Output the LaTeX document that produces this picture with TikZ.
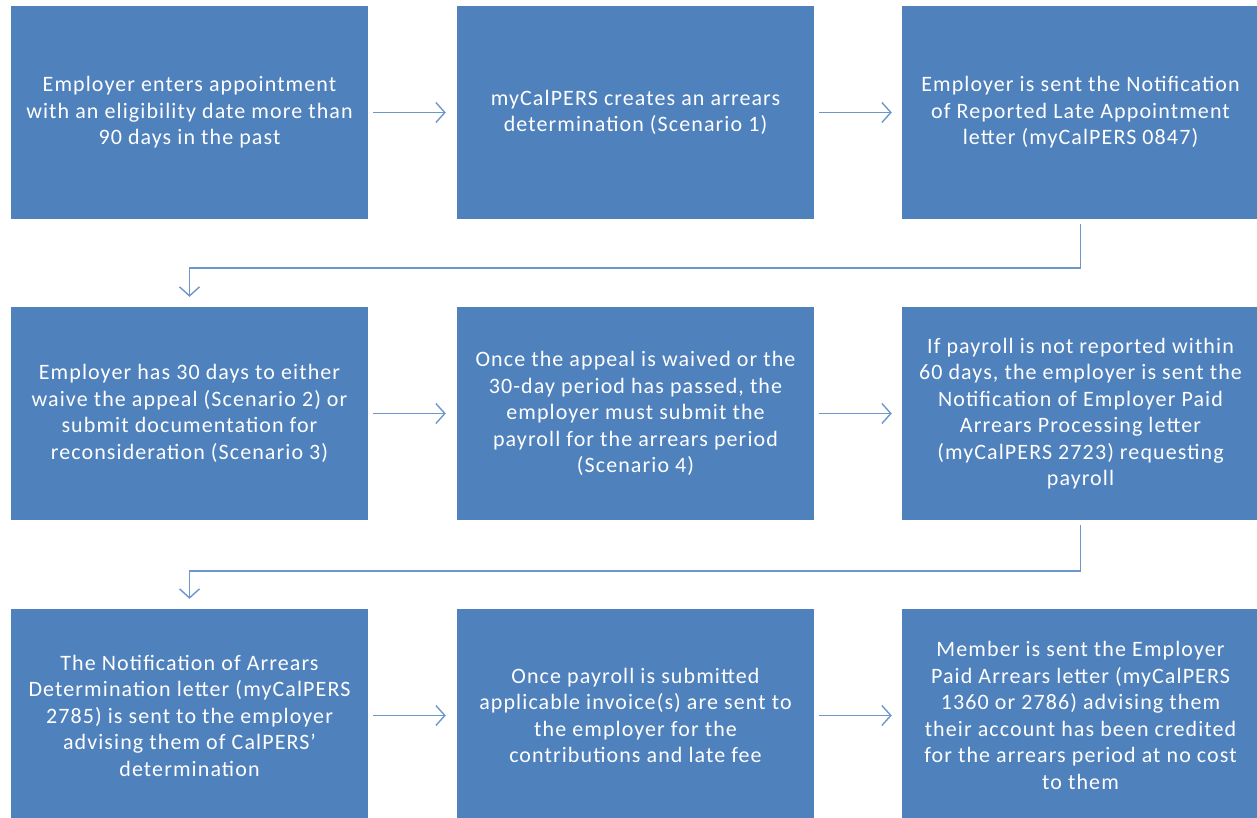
\documentclass[tikz,border=0pt]{standalone}
\usepackage{fontspec}
\setmainfont{Carlito}[LetterSpace=5]
\usepackage{tikz}
\usetikzlibrary{arrows.meta}

\definecolor{boxblue}{HTML}{4F81BD}
\definecolor{lineblue}{HTML}{6D97CC}

\begin{document}
\begin{tikzpicture}[x=1pt, y=-1pt,
  stepbox/.style={fill=boxblue, draw=none, minimum width=357pt, minimum height=213pt,
    inner sep=0pt, text=white, align=center,
    font=\fontsize{22}{26.5}\selectfont},
  flowarrow/.style={draw=lineblue, line width=1.4pt,
    -{Straight Barb[length=9pt, width=20pt, line width=1.4pt]}}]

\useasboundingbox (0,0) rectangle (1257,818);
\clip (0,0) rectangle (1257,818);

% first row
\node[stepbox] (enter) at (189.5,112.5) {Employer enters appointment\\with an eligibility date more than\\90 days in the past};
\node[stepbox] (arrears) at (635.5,112.5) {myCalPERS creates an arrears\\determination (Scenario 1)};
\node[stepbox] (late) at (1080.5,112.5) {Employer is sent the Notification\\of Reported Late Appointment\\letter (myCalPERS 0847)};

\draw[flowarrow] ([xshift=5pt]enter.east) -- ([xshift=-11pt]arrears.west);
\draw[flowarrow] ([xshift=5pt]arrears.east) -- ([xshift=-10pt]late.west);

% second row
\node[stepbox] (appeal) at (189.5,413.5) {Employer has 30 days to either\\waive the appeal (Scenario 2) or\\submit documentation for\\reconsideration (Scenario 3)};
\node[stepbox] (payroll) at (635.5,413.5) {Once the appeal is waived or the\\30-day period has passed, the\\employer must submit the\\payroll for the arrears period\\(Scenario 4)};
\node[stepbox] (request) at (1080.5,413.5) {If payroll is not reported within\\60 days, the employer is sent the\\Notification of Employer Paid\\Arrears Processing letter\\(myCalPERS 2723) requesting\\payroll};

\coordinate (bendA) at (0,263);
\draw[flowarrow] ([yshift=-5pt]late.south) -- ([yshift=-5pt]late.south |- bendA) -| ([yshift=10pt]appeal.north);

\draw[flowarrow] ([xshift=5pt]appeal.east) -- ([xshift=-11pt]payroll.west);
\draw[flowarrow] ([xshift=5pt]payroll.east) -- ([xshift=-10pt]request.west);

% third row
\node[stepbox] (determ) at (189.5,715.5) {The Notification of Arrears\\Determination letter (myCalPERS\\2785) is sent to the employer\\advising them of CalPERS’\\determination};
\node[stepbox] (invoice) at (635.5,715.5) {Once payroll is submitted\\applicable invoice(s) are sent to\\the employer for the\\contributions and late fee};
\node[stepbox] (member) at (1080.5,715.5) {Member is sent the Employer\\Paid Arrears letter (myCalPERS\\1360 or 2786) advising them\\their account has been credited\\for the arrears period at no cost\\to them};

\coordinate (bendB) at (0,566);
\draw[flowarrow] ([yshift=-5pt]request.south) -- ([yshift=-5pt]request.south |- bendB) -| ([yshift=10pt]determ.north);

\draw[flowarrow] ([xshift=5pt]determ.east) -- ([xshift=-11pt]invoice.west);
\draw[flowarrow] ([xshift=5pt]invoice.east) -- ([xshift=-10pt]member.west);

\end{tikzpicture}
\end{document}
